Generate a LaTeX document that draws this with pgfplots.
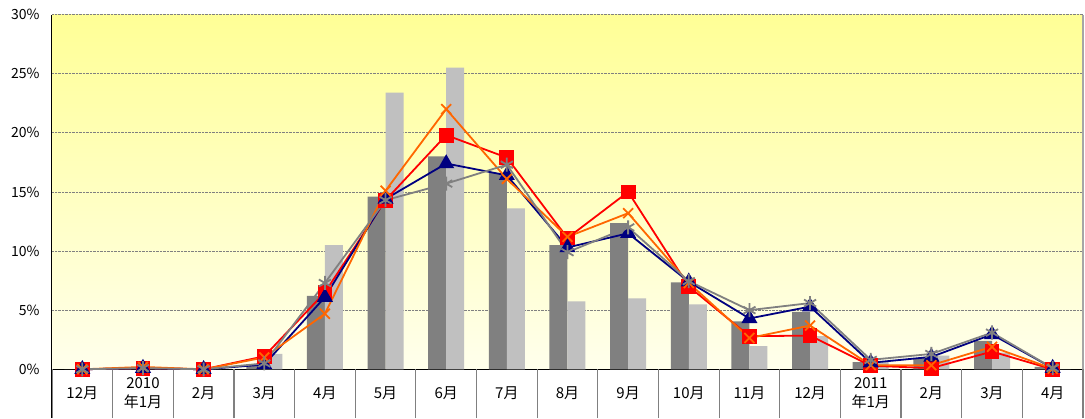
\documentclass[border=0pt]{standalone}
\usepackage{fontspec}
\setmainfont{Noto Sans CJK JP}
\usepackage{pgfplots}
\usepackage{pgfplotstable}
\pgfplotsset{compat=1.18}
\definecolor{barDark}{RGB}{128,128,128}
\definecolor{barLight}{RGB}{192,192,192}
\definecolor{lnNavy}{RGB}{0,0,128}
\definecolor{lnRed}{RGB}{255,0,0}
\definecolor{lnOrange}{RGB}{255,102,0}
\definecolor{lnGray}{RGB}{128,128,128}
\definecolor{bgTop}{RGB}{255,255,150}
\definecolor{bgBot}{RGB}{255,255,236}

% x: 0 = 12月 (2009) ... 16 = 4月 (2011), values in %
\pgfplotstableread{
x  dark  light navy  gray  red   orange
0  0.0   0.0   0.0   0.0   0.0   0.0
1  0.0   0.0   0.1   0.1   0.1   0.2
2  0.0   0.0   0.0   0.0   0.0   0.0
3  0.35  1.3   0.4   0.5   1.1   1.0
4  6.2   10.5  6.1   7.3   6.5   4.7
5  14.6  23.4  14.4  14.3  14.3  15.1
6  18.0  25.5  17.4  15.7  19.8  22.0
7  16.6  13.6  16.4  17.3  17.9  16.1
8  10.5  5.75  10.3  9.9   11.1  11.2
9  12.35 6.0   11.5  12.0  15.0  13.2
10 7.35  5.5   7.4   7.45  7.0   7.3
11 4.05  1.95  4.3   5.0   2.8   2.65
12 4.85  2.8   5.3   5.6   2.85  3.7
13 0.6   0.7   0.55  0.8   0.3   0.35
14 0.95  1.15  1.05  1.3   0.1   0.35
15 2.4   1.4   2.95  3.1   1.5   1.9
16 0.2   0.0   0.1   0.1   0.0   0.05
}\datatable

\begin{document}
\begin{tikzpicture}
\useasboundingbox (-52pt,-48.7pt) rectangle (1033pt,369.3pt);
\begin{axis}[
  scale only axis, width=1031pt, height=354.8pt,
  xmin=-0.5, xmax=16.5, ymin=0, ymax=30,
  clip=false,
  axis x line*=bottom, axis y line*=left,
  axis line style={-, black, line width=1pt},
  axis background/.style={top color=bgTop, bottom color=bgBot},
  ytick={0,5,...,30},
  yticklabel={\pgfmathprintnumber{\tick}\%},
  /pgf/number format/assume math mode=true,
  yticklabel style={font=\fontsize{14}{16}\selectfont, xshift=-9pt},
  ytick style={draw=none},
  ymajorgrids, grid style={densely dotted, gray, line width=0.8pt},
  xtick={0,...,16},
  xtick style={draw=none},
  xticklabels={12月,{2010\\年1月},2月,3月,4月,5月,6月,7月,8月,9月,10月,11月,12月,{2011\\年1月},2月,3月,4月},
  xticklabel style={font=\fontsize{15}{19}\selectfont, align=center, anchor=center, yshift=-24pt},
  extra x ticks={-0.5,0.5,...,16.5},
  extra x tick labels={},
  extra x tick style={tick align=outside, major tick length=48.7pt,
    xtick style={draw=gray, line width=1.2pt}},
]
\addplot[ybar, bar width=18pt, bar shift=-9pt, fill=barDark, draw=none] table[x=x, y=dark] {\datatable};
\addplot[ybar, bar width=18pt, bar shift=9pt, fill=barLight, draw=none] table[x=x, y=light] {\datatable};
\addplot[lnRed, line width=1.8pt, mark=square*, mark size=6.5pt] table[x=x, y=red] {\datatable};
\addplot[lnNavy, line width=1.8pt, mark=triangle*, mark size=7.5pt] table[x=x, y=navy] {\datatable};
\addplot[lnOrange, line width=1.8pt, mark=x, mark size=7pt] table[x=x, y=orange] {\datatable};
\addplot[lnGray, line width=1.8pt, mark=asterisk, mark size=7pt] table[x=x, y=gray] {\datatable};
\draw[black, line width=1pt] (rel axis cs:0,0) -- ++(0pt,-48.7pt);
\draw[gray!70, line width=1.5pt] (rel axis cs:1,0) -- (rel axis cs:1,1);
\end{axis}
\end{tikzpicture}
\end{document}
